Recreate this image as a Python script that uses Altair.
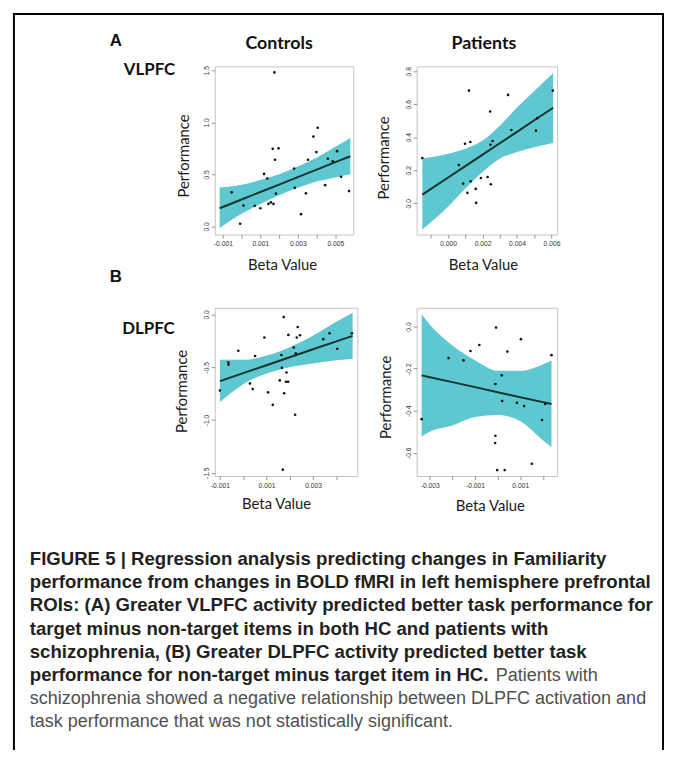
import altair as alt
import pandas as pd

# ---------------- data ----------------
# A: VLPFC, Controls
vc_x = [-0.00053, -0.00008, 0.0001, 0.0007, 0.001, 0.0012, 0.00137, 0.00143, 0.00156, 0.0017,
        0.00166, 0.00175, 0.00178, 0.00183, 0.00197, 0.0028, 0.00284, 0.00317, 0.00343, 0.00354,
        0.00383, 0.00399, 0.00406, 0.00446, 0.0046, 0.00486, 0.00509, 0.00531, 0.00573]
vc_y = [0.327, 0.025, 0.2, 0.197, 0.174, 0.504, 0.46, 0.216, 0.23, 0.216,
        0.745, 1.48, 0.64, 0.314, 0.75, 0.555, 0.37, 0.117, 0.317, 0.64,
        0.863, 0.714, 0.948, 0.396, 0.65, 0.625, 0.723, 0.476, 0.339]
vc_bx = [-0.00117, 0.0, 0.001, 0.002, 0.003, 0.004, 0.005, 0.0058]
vc_fit = [0.174, 0.258, 0.33, 0.401, 0.473, 0.545, 0.617, 0.674]
vc_lo = [-0.016, 0.12, 0.215, 0.30, 0.37, 0.43, 0.47, 0.50]
vc_hi = [0.374, 0.40, 0.445, 0.50, 0.575, 0.66, 0.765, 0.85]

# A: VLPFC, Patients
vp_x = [-0.0015, 0.00062, 0.00087, 0.00098, 0.00112, 0.00121, 0.00129, 0.00131, 0.0016, 0.00163,
        0.0019, 0.00229, 0.00244, 0.00246, 0.00248, 0.00258, 0.00348, 0.00367, 0.0051, 0.00517, 0.00608]
vp_y = [0.274, 0.232, 0.119, 0.361, 0.063, 0.683, 0.371, 0.133, 0.087, 0.002,
        0.153, 0.159, 0.556, 0.355, 0.115, 0.377, 0.657, 0.444, 0.44, 0.516, 0.683]
vp_bx = [-0.0015, 0.0, 0.001, 0.002, 0.003, 0.004, 0.005, 0.0061]
vp_fit = [0.052, 0.156, 0.225, 0.295, 0.364, 0.433, 0.503, 0.579]
vp_lo = [-0.16, -0.02, 0.09, 0.19, 0.27, 0.31, 0.34, 0.365]
vp_hi = [0.272, 0.30, 0.33, 0.38, 0.47, 0.58, 0.68, 0.79]

# B: DLPFC, Controls
dc_x = [-0.001, -0.00064, -0.00063, -0.00021, 0.00029, 0.00041, 0.00051, 0.00091, 0.00107, 0.00127,
        0.00157, 0.00164, 0.00166, 0.00174, 0.00176, 0.00186, 0.00184, 0.00193, 0.00194, 0.0017,
        0.00217, 0.00223, 0.00226, 0.0023, 0.00234, 0.00244, 0.00344, 0.00371, 0.00404, 0.00467]
dc_y = [-0.72, -0.456, -0.475, -0.344, -0.653, -0.706, -0.394, -0.219, -0.738, -0.856,
        -0.625, -0.384, -0.506, -0.025, -0.747, -0.55, -0.638, -0.638, -0.194, -1.47,
        -0.3125, -0.95, -0.369, -0.219, -0.119, -0.197, -0.234, -0.178, -0.325, -0.178]
dc_bx = [-0.001, 0.0, 0.001, 0.002, 0.003, 0.004, 0.0047]
dc_fit = [-0.631, -0.556, -0.481, -0.405, -0.33, -0.255, -0.203]
dc_lo = [-0.83, -0.66, -0.56, -0.50, -0.465, -0.435, -0.42]
dc_hi = [-0.43, -0.43, -0.39, -0.31, -0.20, -0.07, 0.016]

# B: DLPFC, Patients
dp_x = [-0.00336, -0.00217, -0.00151, -0.0012, -0.00081, -0.0001, -0.0001, -0.00011, -0.00007, -0.00002,
        0.00018, 0.0002, 0.00031, 0.00043, 0.00085, 0.00103, 0.00117, 0.00151, 0.00196, 0.0021, 0.00238]
dp_y = [-0.44, -0.15, -0.161, -0.116, -0.088, -0.273, -0.519, -0.553, -0.005, -0.682,
        -0.232, -0.354, -0.682, -0.119, -0.362, -0.06, -0.378, -0.652, -0.444, -0.368, -0.136]
dp_bx = [-0.00336, -0.003, -0.002, -0.001, 0.0, 0.001, 0.002, 0.00238]
dp_fit = [-0.232, -0.241, -0.264, -0.288, -0.312, -0.336, -0.359, -0.368]
dp_lo = [-0.522, -0.50, -0.47, -0.43, -0.42, -0.45, -0.54, -0.574]
dp_hi = [0.058, 0.01, -0.09, -0.16, -0.21, -0.21, -0.18, -0.161]

caption_bold = [
    "FIGURE 5 | Regression analysis predicting changes in Familiarity",
    "performance from changes in BOLD fMRI in left hemisphere prefrontal",
    "ROIs: (A) Greater VLPFC activity predicted better task performance for",
    "target minus non-target items in both HC and patients with",
    "schizophrenia, (B) Greater DLPFC activity predicted better task",
    "performance for non-target minus target item in HC.",
]
caption_tail = "Patients with"
caption_regular = [
    "schizophrenia showed a negative relationship between DLPFC activation and",
    "task performance that was not statistically significant.",
]

# ---------------- styling ----------------
BAND = "#5fc7cf"
LINE = "#10352f"
DOT = "#111111"
PANEL_FONT = "Lato"
SANS = "Liberation Sans"


def x_label_expr(parity):
    return ("abs(round(datum.value*1000)) % 2 == " + str(parity) +
            " ? (datum.value < -0.0000001 ? '-' : '') + format(abs(datum.value), '.3f') : ''")


Y_LABEL_EXPR = "(datum.value < -0.0000001 ? '-' : '') + format(abs(datum.value), '.1f')"


def label(text, x, y, font, size, weight="bold", color="#111111", align="center", baseline="middle"):
    return alt.Chart(pd.DataFrame({"t": [text]})).mark_text(
        font=font, fontSize=size, fontWeight=weight, color=color, align=align, baseline=baseline
    ).encode(x=alt.value(x), y=alt.value(y), text="t:N")


def panel(px, py, bx, fit, lo, hi, xdom, ydom, xticks, parity, yticks, w, h, xt_pos, yt_pos, extra):
    pts = pd.DataFrame({"x": px, "y": py})
    band = pd.DataFrame({"x": bx, "fit": fit, "lo": lo, "hi": hi})
    xax = alt.Axis(values=xticks, labelExpr=x_label_expr(parity), domain=False, grid=False,
                   ticks=True, tickSize=3.5, tickColor="#777777", tickWidth=0.8,
                   labelPadding=3, labelFont=SANS, labelFontSize=6.8, labelColor="#333333",
                   labelFlush=False, labelOverlap=False,
                   title="Beta Value", titleFont=PANEL_FONT, titleFontSize=15,
                   titleFontWeight="normal", titleColor="#1a1a1a",
                   titleX=xt_pos[0], titleY=xt_pos[1], titleAlign="center", titleBaseline="middle")
    yax = alt.Axis(values=yticks, labelExpr=Y_LABEL_EXPR, domain=False, grid=False,
                   ticks=True, tickSize=3.5, tickColor="#777777", tickWidth=0.8,
                   labelPadding=2, labelFont=SANS, labelFontSize=6.8, labelColor="#333333",
                   labelAngle=270, labelAlign="center", labelBaseline="bottom",
                   labelFlush=False, labelOverlap=False,
                   title="Performance", titleFont=PANEL_FONT, titleFontSize=15,
                   titleFontWeight="normal", titleColor="#1a1a1a", titleAngle=270,
                   titleX=yt_pos[0], titleY=yt_pos[1], titleAlign="center", titleBaseline="middle")
    xs = alt.Scale(domain=xdom, nice=False, zero=False)
    ys = alt.Scale(domain=ydom, nice=False, zero=False)
    area = alt.Chart(band).mark_area(color=BAND, opacity=1, interpolate="monotone").encode(
        x=alt.X("x:Q", scale=xs, axis=xax),
        y=alt.Y("lo:Q", scale=ys, axis=yax),
        y2="hi:Q",
    )
    line = alt.Chart(band).mark_line(color=LINE, strokeWidth=2).encode(
        x=alt.X("x:Q", scale=xs, axis=xax),
        y=alt.Y("fit:Q", scale=ys, axis=yax),
    )
    dots = alt.Chart(pts).mark_circle(color=DOT, size=7, opacity=1).encode(
        x=alt.X("x:Q", scale=xs, axis=xax),
        y=alt.Y("y:Q", scale=ys, axis=yax),
    )
    return alt.layer(area, line, dots, *extra).properties(width=w, height=h)


# border around the whole figure (left, top, right)
rule_df = pd.DataFrame({"a": [0]})
border = [
    alt.Chart(rule_df).mark_rule(color="black", strokeWidth=2, strokeCap="square").encode(
        x=alt.value(-203), y=alt.value(-53), y2=alt.value(690)),
    alt.Chart(rule_df).mark_rule(color="black", strokeWidth=2, strokeCap="square").encode(
        x=alt.value(-203), x2=alt.value(453), y=alt.value(-53)),
    alt.Chart(rule_df).mark_rule(color="black", strokeWidth=2, strokeCap="square").encode(
        x=alt.value(453), y=alt.value(-53), y2=alt.value(690)),
]

p1 = panel(vc_x, vc_y, vc_bx, vc_fit, vc_lo, vc_hi,
           [-0.00143, 0.00596], [-0.079, 1.538],
           [-0.001, 0.0, 0.001, 0.002, 0.003, 0.004, 0.005], 1,
           [0.0, 0.5, 1.0, 1.5], 140, 170, (68, 30), (-32, 90),
           border + [
               label("A", -100, -26, SANS, 17),
               label("VLPFC", -66, 4, PANEL_FONT, 17),
               label("Controls", 65, -23, PANEL_FONT, 18),
           ])
p2 = panel(vp_x, vp_y, vp_bx, vp_fit, vp_lo, vp_hi,
           [-0.00183, 0.00633], [-0.19, 0.83],
           [-0.001, 0.0, 0.001, 0.002, 0.003, 0.004, 0.005, 0.006], 0,
           [0.0, 0.2, 0.4, 0.6, 0.8], 142, 170, (67, 30), (-33, 92),
           [label("Patients", 68, -23, PANEL_FONT, 18)])
p3 = panel(dc_x, dc_y, dc_bx, dc_fit, dc_lo, dc_hi,
           [-0.00122, 0.0049], [-1.53, 0.063],
           [-0.001, 0.0, 0.001, 0.002, 0.003, 0.004], 1,
           [0.0, -0.5, -1.0, -1.5], 144, 170, (62, 28), (-34, 84),
           [label("B", -100, -31, SANS, 17),
            label("DLPFC", -67, 21, PANEL_FONT, 17)])
p4 = panel(dp_x, dp_y, dp_bx, dp_fit, dp_lo, dp_hi,
           [-0.00358, 0.00263], [-0.71, 0.089],
           [-0.003, -0.002, -0.001, 0.0, 0.001, 0.002], 1,
           [0.0, -0.2, -0.4, -0.6], 142, 170, (74, 30), (-31, 90), [])

# caption
cap_scale = alt.Scale(domain=[1, 8], range=[16, 180])
bold_df = pd.DataFrame({"line": list(range(1, len(caption_bold) + 1)), "text": caption_bold})
tail_df = pd.DataFrame({"line": [6], "text": [caption_tail]})
reg_df = pd.DataFrame({"line": [7, 8], "text": caption_regular})
cap_bold = alt.Chart(bold_df).mark_text(
    align="left", baseline="alphabetic", font=SANS, fontSize=18.8, fontWeight="bold", color="#231f20"
).encode(x=alt.value(-187), y=alt.Y("line:Q", scale=cap_scale, axis=None), text="text:N")
cap_tail = alt.Chart(tail_df).mark_text(
    align="left", baseline="alphabetic", font=SANS, fontSize=18.2, color="#505050"
).encode(x=alt.value(284), y=alt.Y("line:Q", scale=cap_scale, axis=None), text="text:N")
cap_reg = alt.Chart(reg_df).mark_text(
    align="left", baseline="alphabetic", font=SANS, fontSize=18.2, color="#505050"
).encode(x=alt.value(-187), y=alt.Y("line:Q", scale=cap_scale, axis=None), text="text:N")
caption = alt.layer(cap_bold, cap_tail, cap_reg).properties(
    width=1, height=1, view=alt.ViewBackground(strokeOpacity=0))

chart = alt.concat(
    p1, p2, p3, p4, caption,
    columns=2,
    spacing=alt.RowColnumber(row=74, column=60),
    align="none",
    bounds="flush",
).properties(
    padding={"left": 4, "top": 0, "right": 0, "bottom": 0},
    background="white",
).configure_view(stroke="#c4c4c4", strokeWidth=1)

chart.save("out.html", embed_options={"renderer": "svg", "actions": False})
